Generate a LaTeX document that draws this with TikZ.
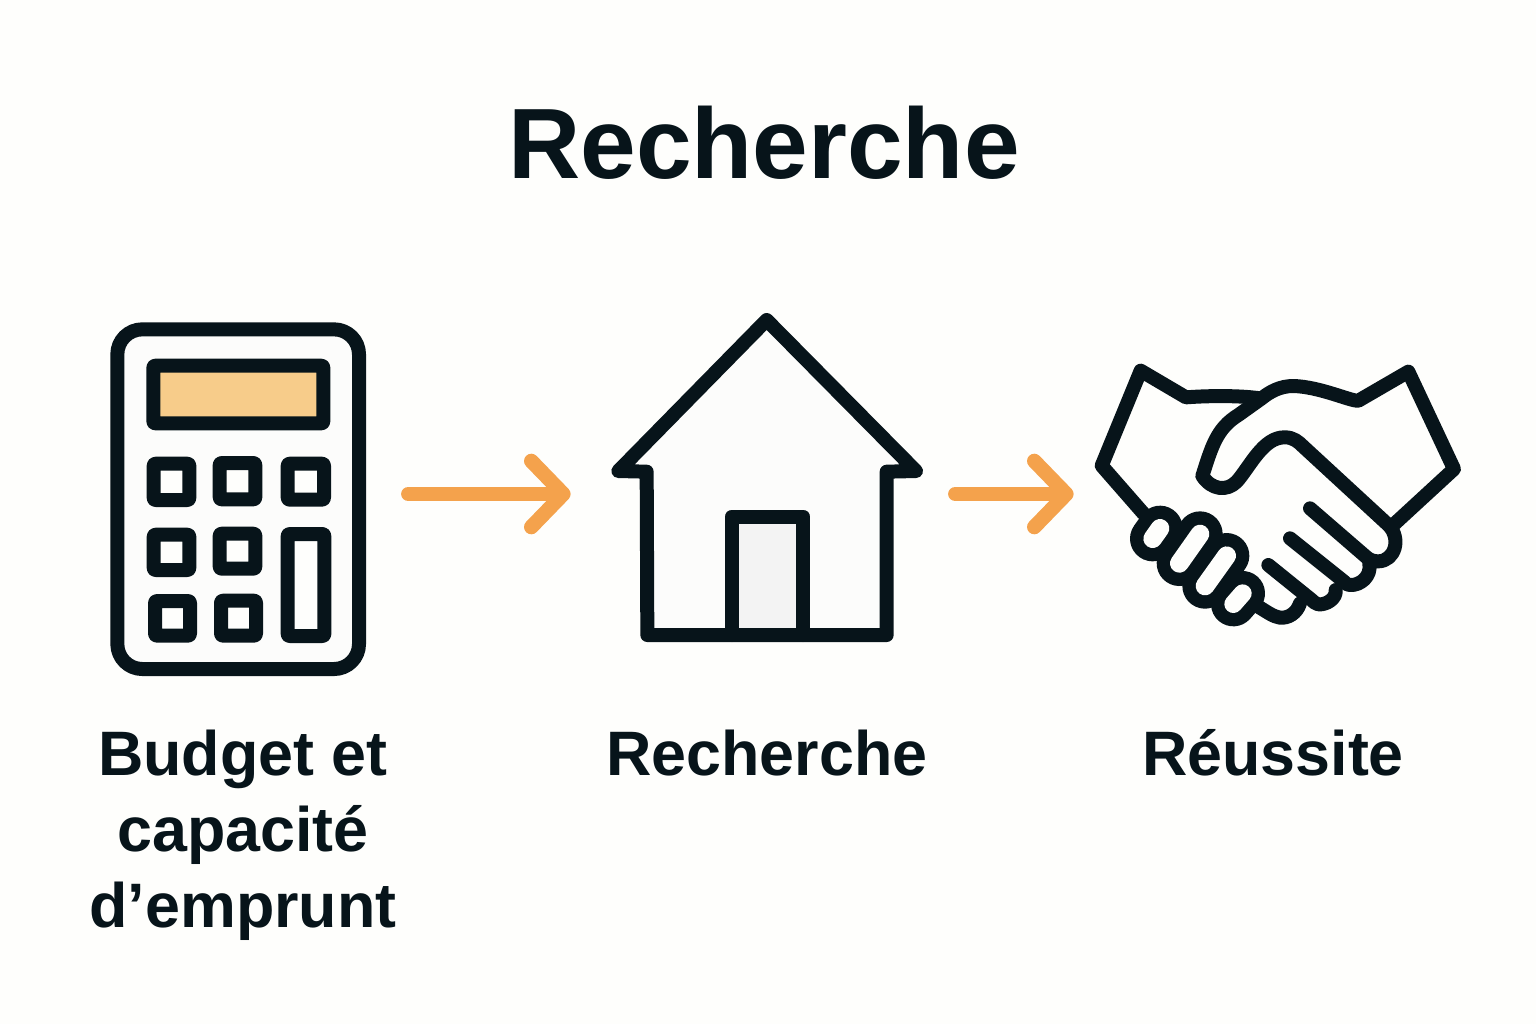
\documentclass[tikz,border=0pt]{standalone}
\usepackage{fontspec}
\setmainfont{Liberation Sans}
\usetikzlibrary{arrows.meta}
\definecolor{ink}{HTML}{07141A}
\definecolor{paper}{HTML}{FEFEFC}
\definecolor{flow}{HTML}{F4A24C}
\definecolor{screen}{HTML}{F7CC8A}
\definecolor{doorfill}{HTML}{F3F3F3}
\definecolor{bodyfill}{HTML}{FCFCFB}
\tikzset{
  titletext/.style={font=\fontsize{50}{60}\selectfont\bfseries,text=ink,anchor=base,inner sep=0pt},
  labeltext/.style={font=\fontsize{31.4}{38}\selectfont\bfseries,text=ink,anchor=base,inner sep=0pt,align=center},
  iconline/.style={draw=ink,line width=7pt,line join=round,line cap=round},
  iconbox/.style={inner sep=0pt,minimum width=#1,minimum height=10pt},
  flowarrow/.style={draw=flow,line width=7.3pt,line cap=round,-{Straight Barb[length=16pt,width=33pt,round]}},
  zoomA/.style={shift={(100,310)},x=0.16667pt,y=-0.16667pt},
  zoomB/.style={shift={(600,305)},x=0.16667pt,y=-0.16667pt},
  zoomC/.style={shift={(1080,350)},x=0.16667pt,y=-0.16667pt},
}
\begin{document}
\begin{tikzpicture}[x=0.5pt,y=-0.5pt]
\path[use as bounding box,fill=paper] (0,0) rectangle (1536,1024);

% title
\node[titletext] (title) at (764,178) {Recherche};

% calculator
\begin{scope}[zoomA]
\draw[iconline,fill=bodyfill,rounded corners=12.5pt] (52,58) rectangle (777,1077);
\draw[iconline,fill=screen,rounded corners=1pt] (160,167) rectangle (670,340);
\foreach \a/\b/\c/\d in {161/461/268/570,359/459/466/568,563/461/672/569,
  161/674/268/780,359/671/466/776,563/672/673/978,165/873/270/977,363/872/468/977}
  \draw[iconline,fill=paper,rounded corners=1pt] (\a,\b) rectangle (\c,\d);
\end{scope}

% house
\begin{scope}[zoomB]
\fill[bodyfill] (55,498) -- (500,45) -- (948,498) -- (860,500) -- (860,990) -- (142,990) -- (140,500) -- cycle;
\fill[doorfill] (395,635) rectangle (610,990);
\draw[iconline] (55,498) -- (500,45) -- (948,498) -- (860,500) -- (860,990) -- (142,990) -- (140,500) -- cycle;
\draw[iconline] (395,990) -- (395,635) -- (610,635) -- (610,990);
\end{scope}

% handshake
\begin{scope}[zoomC]
\draw[iconline] (190,490) -- (65,347) -- (182,62) -- (318,142)
  .. controls (370,138) and (470,135) .. (540,145);
\draw[iconline] (945,520) -- (1122,357) -- (985,65) -- (835,152)
  .. controls (815,155) and (720,110) .. (640,108)
  .. controls (600,108) and (570,125) .. (545,145) -- (475,195)
  .. controls (410,235) and (395,290) .. (367,378)
  .. controls (395,420) and (440,425) .. (470,395)
  .. controls (510,350) and (550,260) .. (615,262)
  .. controls (640,262) and (655,275) .. (670,290) -- (925,525)
  .. controls (965,565) and (945,633) .. (895,634)
  .. controls (880,634) and (870,630) .. (860,622) -- (690,475);
\draw[iconline] (868,640) .. controls (875,680) and (840,706) .. (812,705)
  .. controls (800,705) and (795,698) .. (790,693) -- (630,565);
\draw[iconline] (767,720) .. controls (770,745) and (740,765) .. (715,763)
  .. controls (705,760) and (700,755) .. (695,750) -- (565,645);
\draw[iconline] (660,760) .. controls (650,790) and (625,805) .. (600,803)
  .. controls (580,800) and (560,785) .. (535,770);
% fingers of the lower hand
\foreach \a/\b/\c/\d/\w in {218/566/240/535/136,298/640/360/552/136,375/708/440/617/136,460/762/488/730/134}
  \draw[ink,line cap=round,line width=\w*0.16667pt] (\a,\b) -- (\c,\d);
\foreach \a/\b/\c/\d/\w in {218/566/240/535/56,298/640/360/552/56,375/708/440/617/56,460/762/488/730/54}
  \draw[paper,line cap=round,line width=\w*0.16667pt] (\a,\b) -- (\c,\d);
\end{scope}

% anchors of the icons for the connectors
\node[iconbox=128pt] (calc) at (238,494) {};
\node[iconbox=156.5pt] (house) at (767.5,494) {};
\node[iconbox=183pt] (hands) at (1279,494) {};

% connectors
\draw[flowarrow,shorten <=21pt,shorten >=20pt] (calc.east) -- (house.west);
\draw[flowarrow,shorten <=15.5pt,shorten >=11pt] (house.east) -- (hands.west);

% labels
\node[labeltext] (lab1) at (243,927) {Budget et\\capacité\\d’emprunt};
\node[labeltext] (lab2) at (767,775) {Recherche};
\node[labeltext] (lab3) at (1273,775) {Réussite};
\end{tikzpicture}
\end{document}
